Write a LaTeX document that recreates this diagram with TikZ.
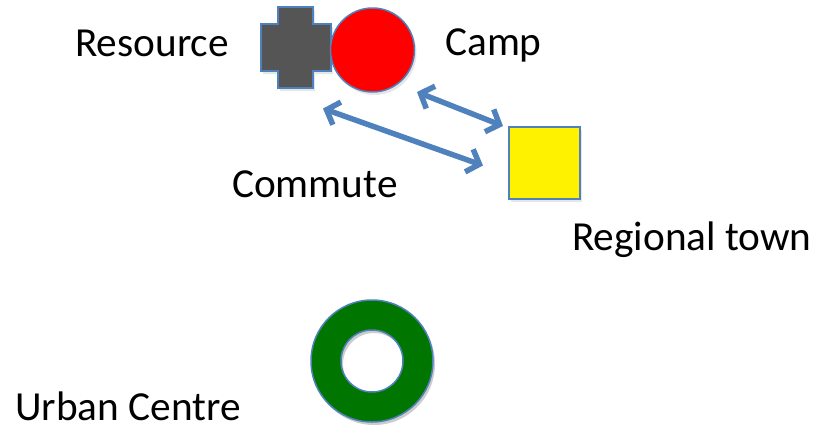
\documentclass[tikz,border=0pt]{standalone}
\usepackage{fontspec}
\setmainfont{Carlito}
\usetikzlibrary{arrows.meta,shadows}
\definecolor{edgeblue}{RGB}{79,129,189}
\definecolor{crossgray}{RGB}{85,85,85}
\definecolor{ringgreen}{RGB}{0,118,0}
\tikzset{
  figshape/.style={draw=edgeblue, line width=1.5pt, drop shadow={opacity=0.2, shadow xshift=2pt, shadow yshift=-3pt}},
  plainshape/.style={draw=edgeblue, line width=1.5pt},
  txtlabel/.style={font=\fontsize{41.3}{48}\selectfont, inner sep=0pt, anchor=base west, text=black},
  linkarrow/.style={draw=edgeblue, line width=5.5pt, {Straight Barb[length=11pt,width=24pt]}-{Straight Barb[length=11pt,width=24pt]}}
}
\begin{document}
\begin{tikzpicture}[x=1pt,y=-1pt]
\useasboundingbox (0,0) rectangle (827,434);
% resource cross
\path[figshape, fill=crossgray] (278,7) -- (313,7) -- (313,24) -- (331,24) -- (331,71) -- (313,71) -- (313,88) -- (278,88) -- (278,71) -- (261,71) -- (261,24) -- (278,24) -- cycle;
\coordinate (resource) at (296,47);
% camp
\node[figshape, fill=red, circle, minimum size=84pt, inner sep=0pt] (camp) at (372.5,50) {};
% regional town
\node[figshape, fill=yellow, rectangle, minimum width=71pt, minimum height=72pt, inner sep=0pt] (town) at (544.5,163) {};
% urban centre ring
\path[fill=black, opacity=0.2, even odd rule] (374,364) circle (61) (374,364) circle (31);
\path[plainshape, fill=ringgreen, even odd rule] (372,361) circle (61) (372,361) circle (31);
\coordinate (urban) at (372,361);
% arrow end points
\coordinate (a1s) at (417,92);
\coordinate (a1e) at (503,126);
\coordinate (a2s) at (323,108.5);
\coordinate (a2e) at (483,165.5);
\draw[linkarrow] (a1s) -- (a1e);
\draw[linkarrow] (a2s) -- (a2e);
% labels
\node[txtlabel] (lres) at (75,56.7) {Resource};
\node[txtlabel] (lcamp) at (445,55) {Camp};
\node[txtlabel] (lcom) at (232,197) {Commute};
\node[txtlabel] (ltown) at (572,250) {Regional town};
\node[txtlabel] (lurban) at (15,420) {Urban Centre};
\end{tikzpicture}
\end{document}
